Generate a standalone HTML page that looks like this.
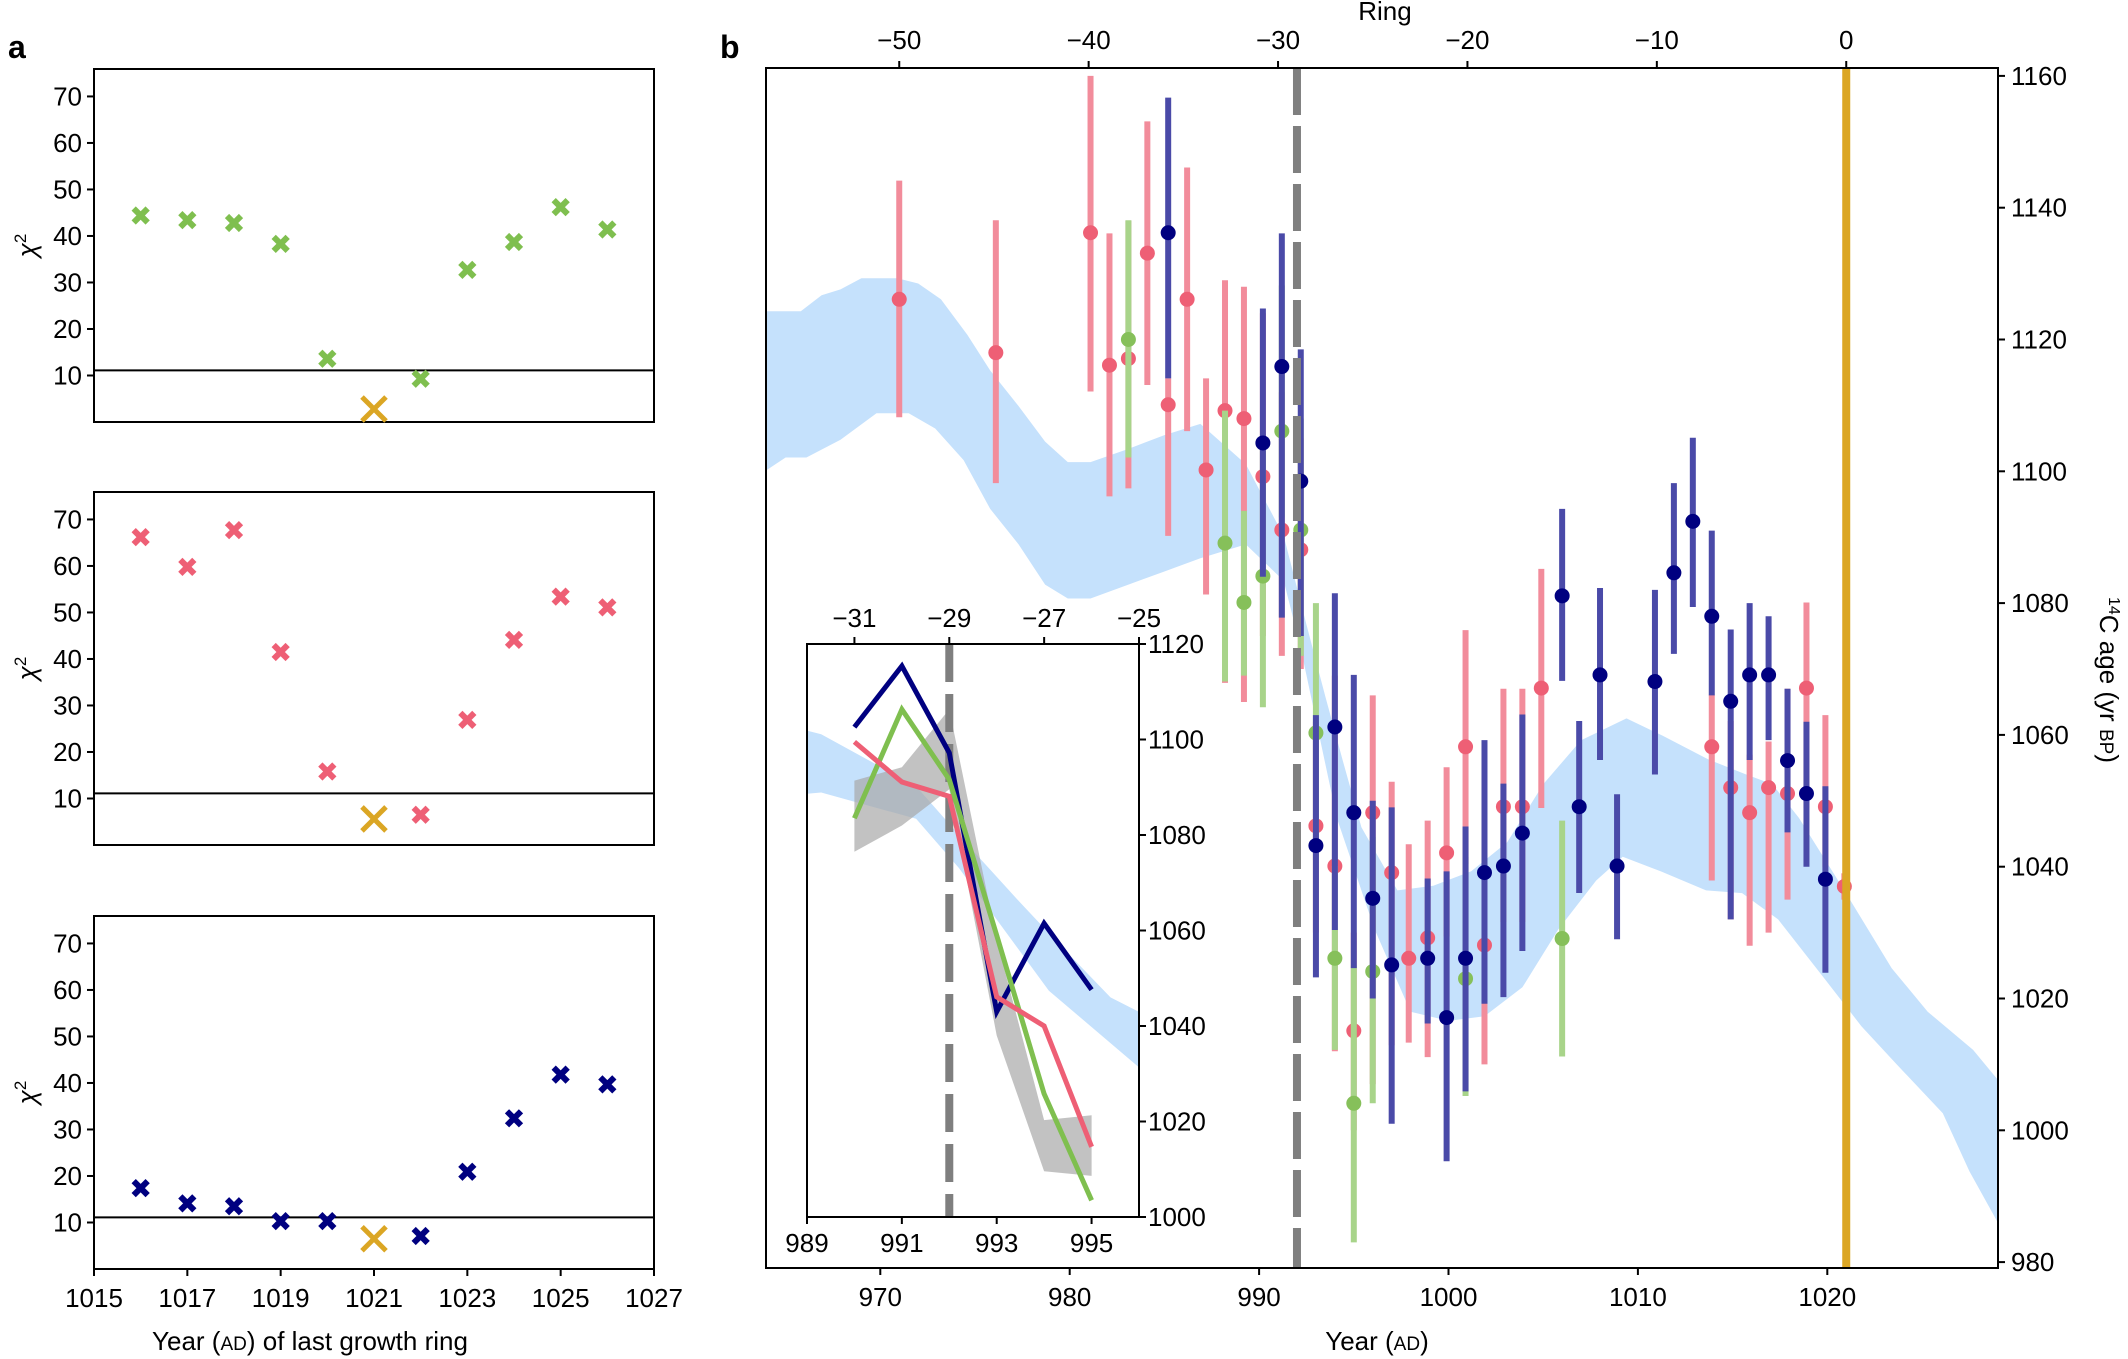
<!DOCTYPE html>
<html><head><meta charset="utf-8">
<style>
html,body{margin:0;padding:0;background:#fff;}
svg{display:block;font-family:"Liberation Sans Narrow","Liberation Sans",sans-serif;}
</style></head>
<body>
<svg id="fig" width="2128" height="1359" viewBox="0 0 2128 1359" xmlns="http://www.w3.org/2000/svg">
<defs>
<clipPath id="mainClip"><rect x="766" y="68" width="1232" height="1200"/></clipPath>
<clipPath id="insetClip"><rect x="807" y="644" width="332" height="573"/></clipPath>
</defs>
<g id="root"></g>
</svg>
<script>
// ---------- Panel a data ----------
const aYears = [1016,1017,1018,1019,1020,1022,1023,1024,1025,1026];
const aGreen = [44.4,43.4,42.8,38.3,13.6,9.3,32.7,38.7,46.2,41.4];
const aPink  = [66.2,59.8,67.7,41.5,15.8,6.5,26.9,44.1,53.4,51.1];
const aNavy  = [17.4,14.1,13.5,10.3,10.3,7.1,20.9,32.4,41.8,39.7];
const aGoldYear = 1021;
const aGold = [2.8,5.6,6.5];
const aThreshold = 11.1;
const aYTicks = [10,20,30,40,50,60,70];
const aXTicks = [1015,1017,1019,1021,1023,1025,1027];

// ---------- Panel b data ----------
const bandUpYears = [963.9,965.8,966.9,967.9,969.0,970.9,972.0,973.2,974.6,975.8,977.3,978.7,979.9,981.1,983.1,985.0,986.9,989.3,991.3,992.5,993.5,994.4,995.4,997.3,999.2,1001.2,1003.1,1005.0,1007.0,1009.4,1011.3,1013.7,1015.7,1017.1,1018.5,1020.9,1023.4,1025.3,1027.7,1029.4];
const bandUp = [1124.3,1124.3,1126.7,1127.6,1129.3,1129.3,1128.5,1126.1,1120.7,1115.3,1109.9,1104.5,1101.4,1101.4,1103.4,1105.5,1107.2,1101.1,1090.2,1076.7,1065.8,1056.3,1046.0,1036.4,1037.1,1039.3,1043.7,1052.5,1059.2,1062.5,1059.9,1056.3,1054.0,1052.5,1047.4,1036.4,1024.6,1018.0,1012.2,1006.3];
const bandLoYears = [963.9,965.0,966.1,967.9,969.8,971.5,972.9,974.4,975.8,977.3,978.7,979.9,981.1,983.1,985.0,986.9,989.3,991.3,992.2,994.1,996.1,998.0,1000.0,1001.9,1003.9,1005.8,1007.8,1009.2,1011.2,1013.6,1015.5,1017.4,1019.8,1021.8,1023.7,1026.1,1027.5,1029.2];
const bandLo = [1100.0,1102.1,1102.1,1104.8,1108.8,1108.8,1106.5,1101.7,1094.3,1088.9,1082.8,1080.7,1080.7,1082.8,1084.8,1086.8,1088.9,1083.4,1073.1,1047.4,1030.5,1018.0,1016.6,1017.3,1021.7,1030.5,1037.9,1041.5,1039.3,1036.4,1036.0,1032.0,1023.2,1015.8,1009.9,1002.6,993.8,985.0];

const pinkYears = [971.0,976.1,981.1,982.1,983.1,984.1,985.2,986.2,987.2,988.2,989.2,990.2,991.2,992.2,993.0,994.0,995.0,996.0,997.0,997.9,998.9,999.9,1000.9,1001.9,1002.9,1003.9,1004.9,1013.9,1014.9,1015.9,1016.9,1017.9,1018.9,1019.9,1020.9];
const pinkVal = [1126.1,1118.0,1136.2,1116.1,1117.1,1133.1,1110.1,1126.1,1100.2,1109.2,1108.0,1099.2,1091.1,1088.1,1046.2,1040.1,1015.1,1048.2,1039.1,1026.1,1029.2,1042.1,1058.2,1028.1,1049.1,1049.1,1067.1,1058.2,1052.0,1048.2,1052.0,1051.1,1067.1,1049.1,1037.0];
const pinkLo = [1108.2,1098.2,1112.1,1096.2,1097.4,1113.1,1090.2,1106.1,1081.3,1067.9,1065.0,1075.0,1072.0,1070.0,1030.0,1012.0,1000.0,1007.0,1012.9,1013.3,1011.1,1029.4,1040.4,1010.0,1031.6,1031.6,1048.9,1037.9,1032.0,1028.0,1030.0,1035.0,1048.9,1040.0,1035.0];
const pinkHi = [1144.1,1138.1,1160.0,1136.1,1138.0,1153.1,1114.1,1146.1,1114.1,1129.0,1128.0,1124.0,1112.0,1105.0,1062.0,1069.0,1030.0,1066.0,1052.9,1043.4,1047.0,1055.1,1075.9,1040.4,1067.0,1067.0,1085.2,1066.1,1062.1,1057.0,1059.0,1067.0,1080.1,1063.0,1039.0];

const navyYears = [985.2,990.2,991.2,992.2,993.0,994.0,995.0,996.0,997.0,998.9,999.9,1000.9,1001.9,1002.9,1003.9,1006.0,1006.9,1008.0,1008.9,1010.9,1011.9,1012.9,1013.9,1014.9,1015.9,1016.9,1017.9,1018.9,1019.9];
const navyVal = [1136.2,1104.3,1115.9,1098.5,1043.2,1061.2,1048.2,1035.2,1025.1,1026.1,1017.1,1026.1,1039.1,1040.1,1045.1,1081.1,1049.1,1069.1,1040.1,1068.1,1084.6,1092.4,1078.0,1065.1,1069.1,1069.1,1056.1,1051.1,1038.1];
const navyLo = [1114.1,1084.0,1077.8,1075.0,1023.2,1030.4,1024.6,1020.0,1001.0,1016.2,995.3,1005.9,1019.2,1020.2,1027.2,1068.2,1036.0,1056.2,1029.0,1054.0,1072.3,1079.4,1066.0,1032.0,1056.2,1059.2,1045.2,1040.0,1023.9];
const navyHi = [1156.7,1124.7,1136.1,1118.5,1063.0,1081.5,1069.1,1050.0,1049.0,1038.2,1039.3,1046.1,1059.2,1052.6,1063.1,1094.3,1062.1,1082.3,1051.0,1082.0,1098.2,1105.1,1091.0,1076.0,1080.0,1078.0,1067.0,1062.0,1052.2];

const greenYears = [983.1,988.2,989.2,990.2,991.2,992.2,993.0,994.0,995.0,996.0,1000.9,1006.0];
const greenVal = [1120.0,1089.1,1080.1,1084.1,1106.1,1091.1,1060.3,1026.1,1004.1,1024.1,1023.0,1029.1];
const greenLo = [1102.1,1068.1,1069.0,1064.2,1093.0,1072.0,1041.0,1012.2,983.0,1004.1,1005.2,1011.2];
const greenHi = [1138.1,1109.2,1094.0,1103.8,1128.2,1108.0,1080.0,1040.1,1025.0,1044.5,1041.5,1047.0];

const dashedYear = 992;
const goldYear = 1021;
const bXTicks = [970,980,990,1000,1010,1020];
const bRingTicks = [-50,-40,-30,-20,-10,0];
const bYTicks = [980,1000,1020,1040,1060,1080,1100,1120,1140,1160];

// ---------- Inset data ----------
const inYears = [990,991,992,993,994,995];
const inNavy  = [1102.6,1115.4,1097.2,1043.0,1061.5,1047.6];
const inGreen = [1083.5,1106.3,1091.6,1059.0,1025.8,1003.5];
const inPink  = [1099.5,1091.1,1088.1,1046.1,1040.0,1014.7];
const inGrayHi = [1091.4,1094.2,1106.3,1058.0,1020.3,1021.3];
const inGrayLo = [1076.5,1082.0,1089.6,1038.0,1009.6,1008.6];
const inXTicks = [989,991,993,995];
const inRingTicks = [-31,-29,-27,-25];
const inYTicks = [1000,1020,1040,1060,1080,1100,1120];

// ---------- helpers ----------
const NS = "http://www.w3.org/2000/svg";
const root = document.getElementById('root');
function mk(tag, attrs, parent){
  const e = document.createElementNS(NS, tag);
  for (const k in attrs) e.setAttribute(k, attrs[k]);
  (parent||root).appendChild(e);
  return e;
}
function txt(s, x, y, size, anchor, parent, extra){
  const t = mk('text', Object.assign({x:x, y:y, 'font-size':size, 'text-anchor':anchor||'middle', fill:'#000'}, extra||{}), parent);
  t.textContent = s;
  return t;
}
const PINK='#ee5f75', PINKBAR='#f28c9b', NAVY='#000080', NAVYBAR='#4a4aa8', GREEN='#86c05a', GREENBAR='#a8d48a', BLUE='#c5e1fc', GOLD='#dba624';

// ---------- Panel a ----------
const aL=94, aR=654, aH=353;
const aTops=[69,492,916];
const ax = v => aL + (v-1015)*(aR-aL)/12;
function crossMark(g, cx, cy, s, w, col){
  mk('path',{d:`M${cx-s} ${cy-s}L${cx+s} ${cy+s}M${cx-s} ${cy+s}L${cx+s} ${cy-s}`, stroke:col, 'stroke-width':w, fill:'none'}, g);
}
const aSeries=[aGreen,aPink,aNavy], aCols=['#7fbf4f',PINK,NAVY], aNames=['green','pink','navy'];
for (let p=0;p<3;p++){
  const top=aTops[p], bot=top+aH;
  const ay = v => bot - v*aH/75.9;
  const g = mk('g',{});
  
  
  mk('rect',{x:aL,y:top,width:aR-aL,height:aH,fill:'none',stroke:'#000','stroke-width':2},g);
  aYTicks.forEach(t=>{
    mk('line',{x1:aL-7,x2:aL,y1:ay(t),y2:ay(t),stroke:'#000','stroke-width':2},g);
    const l=txt(String(t),aL-12,ay(t)+9,26,'end',g);
    
    
  });
  const yl=txt('χ',30,top+aH/2+6,26,'middle',g,{'font-style':'italic',transform:`rotate(-90 30 ${top+aH/2})`});
  
  
  const sup=mk('tspan',{dy:-10,'font-size':17,'font-style':'normal'},yl); sup.textContent='2';
  mk('line',{x1:aL,x2:aR,y1:ay(aThreshold),y2:ay(aThreshold),stroke:'#000','stroke-width':2},g);
  aYears.forEach((yr,i)=>{
    const m=mk('g',{},g);
    
    
    crossMark(m, ax(yr), ay(aSeries[p][i]), 7, 6, aCols[p]);
  });
  const gm=mk('g',{},g);
  
  
  crossMark(gm, ax(aGoldYear), ay(aGold[p]), 12, 5, GOLD);
  if (p===2){
    aXTicks.forEach(t=>{
      mk('line',{x1:ax(t),x2:ax(t),y1:bot,y2:bot+7,stroke:'#000','stroke-width':2},g);
      const l=txt(String(t),ax(t),bot+38,26,'middle',g);
      
      
    });
  }
}
const aTitle=txt('Year (',310,1350,26,'middle');


aTitle.innerHTML='Year (<tspan font-size="19">AD</tspan>) of last growth ring';
const la=txt('a',8,58,32,'start',root,{'font-weight':'bold','font-family':'Liberation Sans, sans-serif'});



// ---------- Panel b ----------
const bL=766, bR=1998, bT=68, bB=1268;
const bx = v => 880.3 + (v-970)*18.94;
const by = v => 75.9 + (1160-v)*6.59;
const gb = mk('g',{});


const gclip = mk('g',{'clip-path':'url(#mainClip)'},gb);
function bandPath(xs, ux, u, lx, l, fx, fy){
  let d='';
  ux.forEach((x,i)=>{ d+=(i?'L':'M')+fx(x).toFixed(1)+' '+fy(u[i]).toFixed(1); });
  for(let i=lx.length-1;i>=0;i--) d+='L'+fx(lx[i]).toFixed(1)+' '+fy(l[i]).toFixed(1);
  return d+'Z';
}
const band=mk('path',{d:bandPath(null,bandUpYears,bandUp,bandLoYears,bandLo,bx,by),fill:BLUE},gclip);


function series(years, vals, lo, hi, barCol, dotCol, name){
  const g=mk('g',{},gclip);
  
  
  years.forEach((yr,i)=>{
    const b=mk('line',{x1:bx(yr),x2:bx(yr),y1:by(lo[i]),y2:by(hi[i]),stroke:barCol,'stroke-width':6},g);
    
    
  });
  years.forEach((yr,i)=>{
    const c=mk('ellipse',{cx:bx(yr),cy:by(vals[i]),rx:7.5,ry:7.5,fill:dotCol},g);
    
    
  });
}
series(pinkYears,pinkVal,pinkLo,pinkHi,PINKBAR,PINK,'pink');
series(greenYears,greenVal,greenLo,greenHi,GREENBAR,GREEN,'green');
series(navyYears,navyVal,navyLo,navyHi,NAVYBAR,NAVY,'navy');
const dl=mk('line',{x1:bx(dashedYear),x2:bx(dashedYear),y1:bT,y2:bB,stroke:'#7f7f7f','stroke-width':8,'stroke-dasharray':'47 11'},gclip);


const gl=mk('line',{x1:bx(goldYear),x2:bx(goldYear),y1:bT,y2:bB,stroke:GOLD,'stroke-width':8},gclip);


mk('rect',{x:bL,y:bT,width:bR-bL,height:bB-bT,fill:'none',stroke:'#000','stroke-width':2},gb);
bXTicks.forEach(t=>{
  mk('line',{x1:bx(t),x2:bx(t),y1:bB,y2:bB+7,stroke:'#000','stroke-width':2},gb);
  const l=txt(String(t),bx(t),bB+38,26,'middle',gb);
  
  
});
bRingTicks.forEach(t=>{
  const x=bx(t+goldYear);
  mk('line',{x1:x,x2:x,y1:bT-7,y2:bT,stroke:'#000','stroke-width':2},gb);
  const l=txt((t<0?'\u2212':'')+Math.abs(t),x,bT-19,26,'middle',gb);
  
  
});
bYTicks.forEach(t=>{
  mk('line',{x1:bR,x2:bR+7,y1:by(t),y2:by(t),stroke:'#000','stroke-width':2},gb);
  const l=txt(String(t),bR+13,by(t)+9,26,'start',gb);
  
  
});
const rt=txt('Ring',1385,20,26,'middle',gb);


const bxt=txt('',1377,1350,26,'middle',gb);
bxt.innerHTML='Year (<tspan font-size="19">AD</tspan>)';


const yt=txt('',2100,680,26,'middle',gb,{transform:'rotate(90 2100 680)','font-family':'Liberation Sans, sans-serif'});
yt.innerHTML='<tspan font-size="16" dy="-9">14</tspan><tspan dy="9">C age (yr </tspan><tspan font-size="19">BP</tspan>)';


const lb=txt('b',720,58,32,'start',root,{'font-weight':'bold','font-family':'Liberation Sans, sans-serif'});



// ---------- Inset ----------
const iL=807, iR=1139, iT=644, iB=1217;
const ix = v => iL + (v-989)*(iR-iL)/7;
const iy = v => iB - (v-1000)*(iB-iT)/120;
const gi=mk('g',{});


mk('rect',{x:iL,y:iT,width:iR-iL,height:iB-iT,fill:'#fff'},gi);
const gic=mk('g',{'clip-path':'url(#insetClip)'},gi);
const ib=mk('path',{d:bandPath(null,bandUpYears,bandUp,bandLoYears,bandLo,ix,iy),fill:BLUE},gic);


const gray=mk('path',{d:bandPath(null,inYears,inGrayHi,inYears,inGrayLo,ix,iy),fill:'#a8a8a8','fill-opacity':0.7},gic);


const idl=mk('line',{x1:ix(dashedYear),x2:ix(dashedYear),y1:iT,y2:iB,stroke:'#7f7f7f','stroke-width':8,'stroke-dasharray':'38 12'},gic);


function inLine(vals,col,name){
  const d=inYears.map((y,i)=>(i?'L':'M')+ix(y).toFixed(1)+' '+iy(vals[i]).toFixed(1)).join('');
  const p=mk('path',{d:d,fill:'none',stroke:col,'stroke-width':5,'stroke-linejoin':'miter'},gic);
  
  
}
inLine(inNavy,NAVY,'inset-navy-line');
inLine(inGreen,'#7fbf4f','inset-green-line');
inLine(inPink,PINK,'inset-pink-line');
mk('rect',{x:iL,y:iT,width:iR-iL,height:iB-iT,fill:'none',stroke:'#000','stroke-width':2},gi);
inXTicks.forEach(t=>{
  mk('line',{x1:ix(t),x2:ix(t),y1:iB,y2:iB+7,stroke:'#000','stroke-width':2},gi);
  const l=txt(String(t),ix(t),iB+35,26,'middle',gi);
  
  
});
inRingTicks.forEach(t=>{
  const x=ix(t+goldYear);
  mk('line',{x1:x,x2:x,y1:iT-7,y2:iT,stroke:'#000','stroke-width':2},gi);
  const l=txt('\u2212'+Math.abs(t),x,iT-17,26,'middle',gi);
  
  
});
inYTicks.forEach(t=>{
  mk('line',{x1:iR,x2:iR+7,y1:iy(t),y2:iy(t),stroke:'#000','stroke-width':2},gi);
  const l=txt(String(t),iR+9,iy(t)+9,26,'start',gi);
  
  
});
</script>
</body></html>
